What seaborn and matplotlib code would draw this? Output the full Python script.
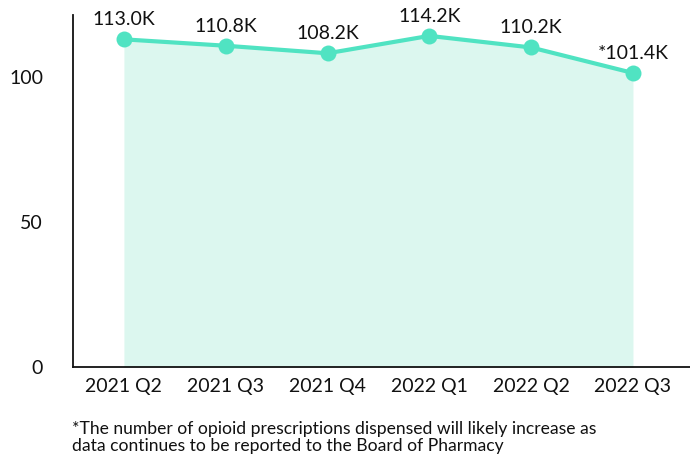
import matplotlib
matplotlib.use("Agg")
import matplotlib.pyplot as plt
import seaborn as sns
import pandas as pd

quarters = ["2021 Q2", "2021 Q3", "2021 Q4", "2022 Q1", "2022 Q2", "2022 Q3"]
values = [113.0, 110.8, 108.2, 114.2, 110.2, 101.4]
labels = ["113.0K", "110.8K", "108.2K", "114.2K", "110.2K", "*101.4K"]
yticks = [0, 50, 100]
footnote = ("*The number of opioid prescriptions dispensed will likely increase as\n"
            "data continues to be reported to the Board of Pharmacy")

sns.set_style("white")
plt.rcParams['font.family'] = ['Lato', 'DejaVu Sans']

df = pd.DataFrame({"x": range(len(quarters)), "v": values})

fig = plt.figure(figsize=(6.9, 4.58), dpi=100)
ax = fig.add_axes([73/690, 91/458, 617/690, 352/458])

line_color = "#50e3c2"
fill_color = "#dcf7ef"

ax.fill_between(df["x"], 0, df["v"], color=fill_color, linewidth=0, zorder=1)
sns.lineplot(data=df, x="x", y="v", ax=ax, color=line_color, linewidth=3,
             marker="o", markersize=11.5, markeredgewidth=0, zorder=3)

for xi, v, lab in zip(df["x"], values, labels):
    ax.annotate(lab, (xi, v), xytext=(0, 8), textcoords="offset points",
                ha="center", va="bottom", fontsize=14, color="#111111")

ax.set_xlim(-0.5, 5.56)
ax.set_ylim(0, 121.4)
ax.set_xticks(range(len(quarters)))
ax.set_xticklabels(quarters)
ax.set_yticks(yticks)
ax.set_xlabel("")
ax.set_ylabel("")
ax.tick_params(axis="x", length=0, pad=8, labelsize=14, labelcolor="#111111")
ax.tick_params(axis="y", length=0, pad=21.5, labelsize=14, labelcolor="#111111")

for s in ["top", "right"]:
    ax.spines[s].set_visible(False)
for s in ["left", "bottom"]:
    ax.spines[s].set_color("#111111")
    ax.spines[s].set_linewidth(1.3)

fig.text(72/690, 1 - 421/458, footnote, ha="left", va="top", fontsize=12.6,
         color="#111111", linespacing=1.08)

fig.savefig("out.png", dpi=100)
